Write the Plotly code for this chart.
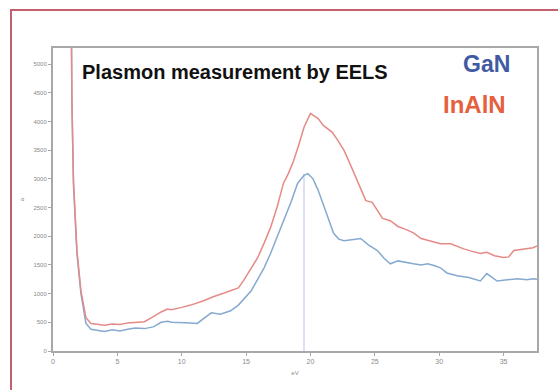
import plotly.graph_objects as go

# ---- data ----
inaln_x = [1.35, 1.47, 1.59, 1.86, 2.17, 2.56, 2.95, 3.4, 4.0, 4.6, 5.2, 5.8, 6.4, 7.1, 7.8, 8.4, 8.9, 9.2,
           10.0, 10.7, 11.7, 12.5, 13.3, 14.0, 14.4, 14.8, 15.3, 15.9, 16.4, 16.9, 17.4, 17.9, 18.3, 18.7,
           19.1, 19.5, 20.0, 20.2, 20.6, 21.0, 21.4, 21.7, 22.1, 22.6, 23.0, 23.4, 23.8, 24.3, 24.8, 25.2,
           25.6, 26.2, 26.8, 27.4, 28.0, 28.6, 29.3, 30.1, 30.9, 31.4, 31.9, 32.5, 33.2, 33.7, 34.3, 35.0,
           35.4, 35.8, 36.5, 37.3, 37.6]
inaln_y = [8000, 4370, 2970, 1750, 1050, 580, 480, 470, 450, 470, 460, 490, 500, 510, 600, 680, 730, 720,
           760, 800, 875, 950, 1010, 1060, 1100, 1225, 1400, 1625, 1880, 2150, 2500, 2920, 3100, 3320,
           3600, 3900, 4140, 4110, 4050, 3930, 3870, 3810, 3680, 3500, 3300, 3090, 2850, 2620, 2590, 2450,
           2310, 2270, 2170, 2120, 2060, 1960, 1920, 1870, 1870, 1820, 1780, 1740, 1700, 1720, 1660, 1630,
           1640, 1750, 1770, 1800, 1830]

gan_x = [1.35, 1.47, 1.59, 1.86, 2.17, 2.56, 2.95, 3.4, 4.0, 4.6, 5.2, 5.8, 6.4, 7.1, 7.8, 8.4, 8.9, 9.2,
         10.0, 10.7, 11.2, 11.7, 12.3, 13.0, 13.8, 14.4, 15.0, 15.4, 15.9, 16.4, 16.9, 17.4, 17.9, 18.5,
         19.0, 19.5, 19.8, 20.2, 20.6, 21.0, 21.3, 21.8, 22.2, 22.6, 23.2, 23.9, 24.5, 25.2, 25.7, 26.2,
         26.8, 27.4, 28.0, 28.6, 29.1, 29.6, 30.1, 30.6, 31.4, 32.3, 33.2, 33.7, 34.1, 34.5, 35.3, 36.1,
         36.8, 37.3, 37.6]
gan_y = [8000, 4300, 2900, 1700, 1000, 480, 380, 360, 340, 370, 350, 380, 400, 390, 420, 500, 520, 500,
         500, 490, 480, 560, 665, 640, 700, 800, 950, 1050, 1250, 1450, 1700, 1980, 2270, 2600,
         2920, 3060, 3090, 3000, 2800, 2550, 2330, 2050, 1950, 1920, 1940, 1960, 1850, 1750, 1620, 1520,
         1570, 1540, 1520, 1500, 1520, 1490, 1450, 1360, 1310, 1280, 1220, 1350, 1290, 1220, 1240, 1260,
         1240, 1260, 1250]

marker_x = [19.5, 19.5]
marker_y = [0, 3090]

x_ticks = [0, 5, 10, 15, 20, 25, 30, 35]
y_ticks = [0, 500, 1000, 1500, 2000, 2500, 3000, 3500, 4000, 4500, 5000]

W, H = 558, 390
ML, MR, MT, MB = 53, 21, 48, 39
PW, PH = W - ML - MR, H - MT - MB


def px(xp):
    return (xp - ML) / PW


def py(yp):
    return (H - MB - yp) / PH


fig = go.Figure()
fig.add_trace(go.Scatter(x=marker_x, y=marker_y, mode="lines",
                         line=dict(color="#b9c2ea", width=1), hoverinfo="skip", showlegend=False))
fig.add_trace(go.Scatter(x=gan_x, y=gan_y, mode="lines", name="GaN",
                         line=dict(color="#86a9cf", width=1.5), showlegend=False))
fig.add_trace(go.Scatter(x=inaln_x, y=inaln_y, mode="lines", name="InAlN",
                         line=dict(color="#e58a86", width=1.5), showlegend=False))

fig.update_layout(
    width=W, height=H,
    margin=dict(l=ML, r=MR, t=MT, b=MB),
    paper_bgcolor="white", plot_bgcolor="white",
    font=dict(family="Liberation Sans, Arial, sans-serif"),
    xaxis=dict(range=[0, 37.6], tickvals=x_ticks, ticktext=[str(v) for v in x_ticks],
               showgrid=False, zeroline=False, showline=True, mirror=True,
               linecolor="#a8a8a8", linewidth=2, ticks="outside", ticklen=3,
               tickcolor="#a8a8a8", tickfont=dict(size=7, color="#8a8a8a"),
               title=dict(text="eV", font=dict(size=6, color="#8a8a8a"), standoff=6)),
    yaxis=dict(range=[0, 5280], tickvals=y_ticks, ticktext=[str(v) for v in y_ticks],
               showgrid=False, zeroline=False, showline=True, mirror=True,
               linecolor="#a8a8a8", linewidth=2, ticks="outside", ticklen=3,
               tickcolor="#a8a8a8", tickfont=dict(size=6, color="#8a8a8a"),
               title=dict(text="a", font=dict(size=6, color="#8a8a8a"), standoff=8)),
)

fig.add_annotation(text="<b>Plasmon measurement by EELS</b>", xref="paper", yref="paper",
                   x=px(80), y=py(72), xanchor="left", yanchor="middle", showarrow=False,
                   font=dict(size=20, color="#111111", family="Liberation Sans, Arial, sans-serif"))
fig.add_annotation(text="<b>GaN</b>", xref="paper", yref="paper",
                   x=px(461), y=py(64), xanchor="left", yanchor="middle", showarrow=False,
                   font=dict(size=23, color="#3f5aa3", family="Liberation Sans, Arial, sans-serif"))
fig.add_annotation(text="<b>InAlN</b>", xref="paper", yref="paper",
                   x=px(441), y=py(104), xanchor="left", yanchor="middle", showarrow=False,
                   font=dict(size=24, color="#e6603e", family="Liberation Sans, Arial, sans-serif"))

# outer crimson frame
fig.add_shape(type="rect", xref="paper", yref="paper",
              x0=px(11), y0=py(395), x1=px(565), y1=py(10),
              line=dict(color="#c4606e", width=2), fillcolor="rgba(0,0,0,0)", layer="above")

fig.write_html("out.html")
